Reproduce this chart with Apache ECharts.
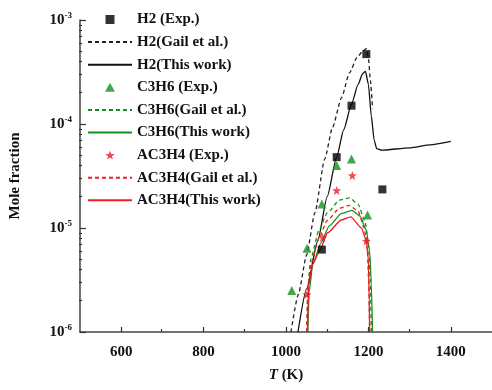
<!DOCTYPE html>
<html>
<head>
<meta charset="utf-8">
<script src="https://cdn.jsdelivr.net/npm/echarts@6/dist/echarts.min.js"></script>
<style>
  html, body { margin: 0; padding: 0; background: #fff; }
  #main { width: 492px; height: 390px; }
</style>
</head>
<body>
<div id="main"></div>
<script>
// experimental points [T (K), mole fraction]
const h2Exp = [[1087, 6.2e-6], [1123, 4.8e-5], [1159, 1.5e-4], [1195, 4.7e-4], [1234, 2.35e-5]];
const c3h6Exp = [[1014, 2.5e-6], [1051, 6.4e-6], [1087, 1.7e-5], [1123, 4.0e-5], [1159, 4.6e-5], [1198, 1.33e-5]];
const ac3h4Exp = [[1051, 2.3e-6], [1089, 8.1e-6], [1123, 2.3e-5], [1161, 3.2e-5], [1195, 7.5e-6]];

// model curves
const h2Gail = [[1012, 1e-6], [1030, 2.3e-6], [1050, 5.5e-6], [1070, 1.4e-5], [1094, 4.6e-5], [1113, 9.3e-5],
  [1135, 1.8e-4], [1154, 3.1e-4], [1173, 4.4e-4], [1188, 5.1e-4], [1195, 5.3e-4], [1200, 4.3e-4],
  [1205, 2.6e-4], [1210, 1.4e-4]];
const h2This = [[1029, 1e-6], [1050, 2.6e-6], [1077, 7.5e-6], [1100, 2e-5], [1123, 4.8e-5], [1140, 8.8e-5],
  [1159, 1.55e-4], [1175, 2.4e-4], [1186, 3.05e-4], [1193, 3.2e-4], [1200, 2.4e-4], [1207, 1.2e-4],
  [1214, 7e-5], [1220, 5.8e-5], [1232, 5.6e-5], [1300, 5.9e-5], [1350, 6.3e-5], [1400, 6.8e-5]];
const c3h6Gail = [[1051, 1e-6], [1053, 2.7e-6], [1060, 5e-6], [1080, 9.5e-6], [1100, 1.4e-5], [1130, 1.85e-5],
  [1154, 1.95e-5], [1175, 1.7e-5], [1192, 1.15e-5], [1200, 7e-6], [1205, 3e-6], [1207, 1e-6]];
const c3h6This = [[1053, 1e-6], [1056, 2.4e-6], [1065, 4.5e-6], [1085, 7.2e-6], [1105, 1.05e-5], [1135, 1.38e-5],
  [1160, 1.48e-5], [1180, 1.3e-5], [1195, 9.5e-6], [1203, 6e-6], [1207, 3e-6], [1210, 1e-6]];
const ac3h4Gail = [[1050, 1e-6], [1053, 2.5e-6], [1060, 4.5e-6], [1080, 8e-6], [1100, 1.18e-5], [1130, 1.55e-5],
  [1154, 1.65e-5], [1175, 1.45e-5], [1190, 1e-5], [1197, 6.5e-6], [1201, 3e-6], [1203, 1e-6]];
const ac3h4This = [[1052, 1e-6], [1055, 2.8e-6], [1065, 4.5e-6], [1082, 6.1e-6], [1101, 9e-6], [1135, 1.2e-5],
  [1157, 1.28e-5], [1183, 1e-5], [1195, 7.6e-6], [1200, 4.9e-6], [1202, 2e-6], [1203, 1e-6]];

const xMajor = [600, 800, 1000, 1200, 1400];
const xMinor = [700, 900, 1100, 1300];
const yMinor = [2e-6, 3e-6, 4e-6, 5e-6, 6e-6, 7e-6, 8e-6, 9e-6,
  2e-5, 3e-5, 4e-5, 5e-5, 6e-5, 7e-5, 8e-5, 9e-5,
  2e-4, 3e-4, 4e-4, 5e-4, 6e-4, 7e-4, 8e-4, 9e-4];

const BLACK = '#000', GREEN = '#16901c', RED = '#ee1c25';
const FONT = 'Liberation Serif';
const SQUARE = 'path://M0,0 L10,0 L10,10 L0,10 Z';
const TRI = 'path://M5,0 L10,9 L0,9 Z';
const STAR = 'path://M12,1 L14.9,9 L23.4,9.3 L16.7,14.5 L19.1,22.7 L12,17.9 L4.9,22.7 L7.3,14.5 L0.6,9.3 L9.1,9 Z';

const chart = echarts.init(document.getElementById('main'));

function lineSeries(name, data, color, dashed) {
  return {
    name: name, type: 'line', data: data, symbol: 'none', showSymbol: false,
    smooth: 0.2, smoothMonotone: 'x',
    itemStyle: { color: color },
    lineStyle: { color: color, width: 1.3, type: dashed ? [4, 3] : 'solid' },
    z: 2
  };
}
function scatterSeries(name, data, color, symbol, size) {
  return {
    name: name, type: 'scatter', data: data, symbol: symbol, symbolSize: size,
    itemStyle: { color: color }, z: 3
  };
}
// legend entries: symbols for experiments, bare lines for models
function expItem(name, icon) {
  return { name: name, icon: icon };
}
function lineItem(name) {
  return { name: name, itemStyle: { color: 'rgba(0,0,0,0)', opacity: 0, borderWidth: 0 } };
}

const gridBox = { left: 79, right: 0, top: 20, bottom: 58 };
const tickLine = { color: '#333', width: 1.2 };

const option = {
  animation: false,
  textStyle: { fontFamily: FONT },
  // second grid only carries the minor ticks
  grid: [Object.assign({}, gridBox), Object.assign({}, gridBox)],
  legend: {
    orient: 'vertical', left: 82, top: 7,
    itemWidth: 44, itemHeight: 9, itemGap: 7.6, symbolKeepAspect: true,
    textStyle: { fontFamily: FONT, fontWeight: 'bold', fontSize: 15, color: '#111' },
    data: [
      expItem('H2 (Exp.)', SQUARE), lineItem('H2(Gail et al.)'), lineItem('H2(This work)'),
      expItem('C3H6 (Exp.)', TRI), lineItem('C3H6(Gail et al.)'), lineItem('C3H6(This work)'),
      expItem('AC3H4 (Exp.)', STAR), lineItem('AC3H4(Gail et al.)'), lineItem('AC3H4(This work)')
    ]
  },
  xAxis: [{
    type: 'value', gridIndex: 0, min: 500, max: 1500, interval: 100,
    name: '{i|T} (K)', nameLocation: 'middle', nameGap: 36,
    nameTextStyle: {
      fontFamily: FONT, fontWeight: 'bold', fontSize: 15, color: '#111',
      rich: { i: { fontFamily: FONT, fontStyle: 'italic', fontWeight: 'bold', fontSize: 15, color: '#111' } }
    },
    axisLine: { show: true, lineStyle: { color: '#444', width: 1.5 } },
    axisTick: { show: true, inside: true, length: 5, customValues: xMajor, lineStyle: tickLine },
    axisLabel: {
      customValues: xMajor, margin: 13, formatter: v => String(v),
      fontFamily: FONT, fontWeight: 'bold', fontSize: 15, color: '#111'
    },
    splitLine: { show: false }
  }, {
    type: 'value', gridIndex: 1, min: 500, max: 1500, interval: 100, position: 'bottom',
    axisLine: { show: false },
    axisTick: { show: true, inside: true, length: 3, customValues: xMinor, lineStyle: tickLine },
    axisLabel: { show: false },
    splitLine: { show: false }
  }],
  yAxis: [{
    type: 'log', gridIndex: 0, min: 1e-6, max: 1e-3, logBase: 10,
    name: 'Mole fraction', nameLocation: 'middle', nameGap: 57,
    nameTextStyle: { fontFamily: FONT, fontWeight: 'bold', fontSize: 15, color: '#111' },
    axisLine: { show: true, lineStyle: { color: '#444', width: 1.5 } },
    axisTick: { show: true, inside: true, length: 6, lineStyle: tickLine },
    axisLabel: {
      margin: 8,
      formatter: v => '{b|10}{s|' + Math.round(Math.log10(v)) + '}',
      rich: {
        b: { fontFamily: FONT, fontWeight: 'bold', fontSize: 15, color: '#111' },
        s: { fontFamily: FONT, fontWeight: 'bold', fontSize: 9, color: '#111', padding: [0, 0, 9, 0] }
      }
    },
    splitLine: { show: false }
  }, {
    type: 'log', gridIndex: 1, min: 1e-6, max: 1e-3, logBase: 10, position: 'left',
    axisLine: { show: false },
    axisTick: { show: true, inside: true, length: 3, customValues: yMinor, lineStyle: tickLine },
    axisLabel: { show: false },
    splitLine: { show: false }
  }],
  series: [
    scatterSeries('H2 (Exp.)', h2Exp, BLACK, 'rect', 8),
    lineSeries('H2(Gail et al.)', h2Gail, '#222', true),
    lineSeries('H2(This work)', h2This, '#111', false),
    scatterSeries('C3H6 (Exp.)', c3h6Exp, GREEN, 'triangle', 9),
    lineSeries('C3H6(Gail et al.)', c3h6Gail, GREEN, true),
    lineSeries('C3H6(This work)', c3h6This, GREEN, false),
    scatterSeries('AC3H4 (Exp.)', ac3h4Exp, RED, STAR, 9),
    lineSeries('AC3H4(Gail et al.)', ac3h4Gail, RED, true),
    lineSeries('AC3H4(This work)', ac3h4This, RED, false)
  ]
};
chart.setOption(option);
</script>
</body>
</html>
